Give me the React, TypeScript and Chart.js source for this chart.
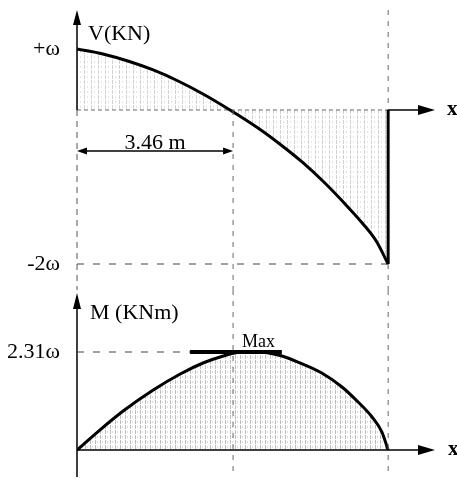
import { useEffect, useRef } from "react";
import { Chart, registerables } from "chart.js";

Chart.register(...registerables);

// ---- data (drawing units) ----
const shearX = [0, 0.5, 0.98, 1.47, 1.95, 2.43, 2.95, 3.49, 3.91, 4.34, 4.78, 5.17, 5.5, 5.77, 6.0];
const shearV = [1.0, 0.918, 0.803, 0.656, 0.475, 0.262, 0, -0.295, -0.557, -0.852, -1.197, -1.541, -1.852, -2.148, -2.525];
const momentX = [0, 0.44, 0.89, 1.47, 1.99, 2.43, 2.82, 3.09, 3.3, 3.49, 3.88, 4.26, 4.72, 5.11, 5.42, 5.69, 5.88, 6.0];
const momentM = [0, 0.471, 0.919, 1.414, 1.792, 2.051, 2.216, 2.298, 2.31, 2.31, 2.239, 2.074, 1.815, 1.485, 1.132, 0.778, 0.424, 0];
const shearTicks = [1, -2.525];
const shearTickLabels = ["+ω", "-2ω"];
const momentTicks = [2.31];
const momentTickLabels = ["2.31ω"];
const beamEnd = 6;
const zeroShearX = 3.01;
const maxSpan = [2.18, 3.95];
const maxMoment = 2.31;
const xRange = [0, 7];
const shearRange = [-2.951, 1.639];
const momentRange = [-0.6365, 3.772];
const dimText = "3.46 m";
const shearTitle = "V(KN)";
const momentTitle = "M (KNm)";
const maxText = "Max";
const axisText = "x";

const SERIF = "'Liberation Serif', 'DejaVu Serif', serif";

function makeHatch(step: number, alpha: number) {
  const c = document.createElement("canvas");
  c.width = step;
  c.height = 5;
  const g = c.getContext("2d")!;
  g.fillStyle = `rgba(0,0,0,${alpha})`;
  g.fillRect(0, 0, 1, 4);
  g.fillStyle = `rgba(0,0,0,${alpha * 0.55})`;
  g.fillRect(Math.floor(step / 2), 1, 1, 2);
  return g.createPattern(c, "repeat");
}

function seg(ctx: CanvasRenderingContext2D, x1: number, y1: number, x2: number, y2: number) {
  ctx.beginPath();
  ctx.moveTo(x1, y1);
  ctx.lineTo(x2, y2);
  ctx.stroke();
}
function tri(ctx: CanvasRenderingContext2D, pts: number[]) {
  ctx.beginPath();
  ctx.moveTo(pts[0], pts[1]);
  ctx.lineTo(pts[2], pts[3]);
  ctx.lineTo(pts[4], pts[5]);
  ctx.closePath();
  ctx.fill();
}
const arrowRight = (ctx: any, tx: number, y: number, len: number, h: number) =>
  tri(ctx, [tx, y, tx - len, y - h, tx - len, y + h]);
const arrowLeft = (ctx: any, tx: number, y: number, len: number, h: number) =>
  tri(ctx, [tx, y, tx + len, y - h, tx + len, y + h]);
const arrowUp = (ctx: any, x: number, ty: number, len: number, h: number) =>
  tri(ctx, [x, ty, x - h, ty + len, x + h, ty + len]);

function yScaleOpts(range: number[], ticks: number[], labels: string[]) {
  return {
    type: "linear" as const,
    min: range[0],
    max: range[1],
    grid: { display: false },
    border: { display: false },
    afterBuildTicks: (s: any) => {
      s.ticks = ticks.map((v) => ({ value: v }));
    },
    afterFit: (s: any) => {
      s.width = 77;
      s.paddingTop = 0;
      s.paddingBottom = 0;
    },
    ticks: {
      padding: 9,
      color: "#000",
      font: { family: SERIF, size: 22 },
      callback: (_v: any, i: number) => labels[i],
    },
  };
}

const shearDecor = {
  id: "shearDecor",
  afterDraw(chart: any) {
    const { ctx, chartArea: a } = chart;
    const xs = chart.scales.x;
    const ys = chart.scales.y;
    const x0 = xs.getPixelForValue(0);
    const xL = xs.getPixelForValue(beamEnd);
    const xZ = xs.getPixelForValue(zeroShearX);
    const y0 = ys.getPixelForValue(0);
    const yMin = ys.getPixelForValue(shearV[shearV.length - 1]);
    ctx.save();
    ctx.fillStyle = "#000";
    ctx.strokeStyle = "#000";
    // V axis
    ctx.lineWidth = 1.5;
    seg(ctx, x0, a.top + 10, x0, y0);
    arrowUp(ctx, x0, a.top, 15, 4);
    ctx.lineWidth = 1;
    ctx.strokeStyle = "#555";
    ctx.setLineDash([6, 5]);
    seg(ctx, x0, y0, x0, a.bottom);
    // base line (dotted under diagram)
    ctx.strokeStyle = "rgba(0,0,0,0.6)";
    ctx.setLineDash([4, 3]);
    seg(ctx, x0, y0, xL, y0);
    // verticals
    ctx.strokeStyle = "#666";
    ctx.setLineDash([5, 6]);
    seg(ctx, xZ, y0, xZ, a.bottom);
    seg(ctx, xL, a.top, xL, y0);
    seg(ctx, xL, yMin, xL, a.bottom);
    // x axis beyond beam
    ctx.setLineDash([]);
    ctx.strokeStyle = "#000";
    ctx.lineWidth = 1.5;
    seg(ctx, xL, y0, a.right - 20, y0);
    arrowRight(ctx, a.right - 5, y0, 17, 5);
    ctx.font = `bold 21px ${SERIF}`;
    ctx.textAlign = "left";
    ctx.textBaseline = "alphabetic";
    ctx.fillText(axisText, a.right + 7, y0 + 5);
    // title
    ctx.font = `22px ${SERIF}`;
    ctx.textBaseline = "middle";
    ctx.fillText(shearTitle, x0 + 11, y0 - 76);
    // dimension
    const yd = y0 + 41;
    ctx.lineWidth = 1.5;
    seg(ctx, x0 + 8, yd, xZ - 8, yd);
    arrowLeft(ctx, x0, yd, 10, 3.5);
    arrowRight(ctx, xZ, yd, 10, 3.5);
    ctx.textAlign = "center";
    ctx.textBaseline = "alphabetic";
    ctx.fillText(dimText, (x0 + xZ) / 2, yd - 2);
    ctx.restore();
  },
};

const momentDecor = {
  id: "momentDecor",
  afterDraw(chart: any) {
    const { ctx, chartArea: a } = chart;
    const xs = chart.scales.x;
    const ys = chart.scales.y;
    const x0 = xs.getPixelForValue(0);
    const xL = xs.getPixelForValue(beamEnd);
    const xZ = xs.getPixelForValue(zeroShearX);
    const y0 = ys.getPixelForValue(0);
    const yMax = ys.getPixelForValue(maxMoment);
    ctx.save();
    ctx.fillStyle = "#000";
    ctx.strokeStyle = "#000";
    // M axis
    ctx.lineWidth = 1.5;
    seg(ctx, x0, a.top + 12, x0, a.bottom);
    arrowUp(ctx, x0, a.top + 3, 16, 4);
    // verticals
    ctx.lineWidth = 1;
    ctx.strokeStyle = "#666";
    ctx.setLineDash([5, 6]);
    seg(ctx, xZ, a.top, xZ, a.bottom);
    seg(ctx, xL, a.top, xL, a.bottom);
    // 2.31 dashed guide
    ctx.strokeStyle = "#444";
    ctx.setLineDash([7, 9]);
    seg(ctx, x0, yMax, xs.getPixelForValue(maxSpan[0]), yMax);
    // x axis
    ctx.setLineDash([]);
    ctx.strokeStyle = "#000";
    ctx.lineWidth = 1.5;
    seg(ctx, x0, y0, a.right - 20, y0);
    arrowRight(ctx, a.right - 5, y0, 17, 5);
    ctx.font = `bold 21px ${SERIF}`;
    ctx.textAlign = "left";
    ctx.textBaseline = "alphabetic";
    ctx.fillText(axisText, a.right + 8, y0 + 5);
    // title
    ctx.font = `22px ${SERIF}`;
    ctx.textBaseline = "middle";
    ctx.fillText(momentTitle, x0 + 13, a.top + 23);
    // Max
    ctx.font = `18px ${SERIF}`;
    ctx.textAlign = "center";
    ctx.textBaseline = "alphabetic";
    ctx.fillText(maxText, (xZ + xs.getPixelForValue(maxSpan[1])) / 2 + 1, yMax - 5);
    ctx.restore();
  },
};

export default function App() {
  const topRef = useRef<HTMLCanvasElement>(null);
  const botRef = useRef<HTMLCanvasElement>(null);

  useEffect(() => {
    const hatchV = makeHatch(7, 0.18);
    const hatchM = makeHatch(5, 0.26);
    const common = {
      animation: false as const,
      responsive: false,
      events: [] as any[],
      plugins: { legend: { display: false }, tooltip: { enabled: false } },
    };
    const top = new Chart(topRef.current!, {
      type: "line",
      data: {
        datasets: [
          {
            data: shearX.map((x, i) => ({ x, y: shearV[i] })),
            borderColor: "#000",
            borderWidth: 3,
            pointRadius: 0,
            cubicInterpolationMode: "monotone",
            fill: "origin",
            backgroundColor: hatchV as any,
          },
          {
            data: [
              { x: beamEnd, y: shearV[shearV.length - 1] },
              { x: beamEnd, y: 0 },
            ],
            borderColor: "#000",
            borderWidth: 3,
            pointRadius: 0,
          },
          {
            data: [
              { x: 0, y: shearTicks[1] },
              { x: beamEnd, y: shearTicks[1] },
            ],
            borderColor: "#444",
            borderWidth: 1,
            borderDash: [7, 9],
            pointRadius: 0,
          },
        ],
      },
      options: {
        ...common,
        layout: { padding: { left: 0, right: 17, top: 10, bottom: 0 } },
        scales: {
          x: { type: "linear", min: xRange[0], max: xRange[1], display: false },
          y: yScaleOpts(shearRange, shearTicks, shearTickLabels) as any,
        },
      },
      plugins: [shearDecor],
    });
    const bot = new Chart(botRef.current!, {
      type: "line",
      data: {
        datasets: [
          {
            data: momentX.map((x, i) => ({ x, y: momentM[i] })),
            borderColor: "#000",
            borderWidth: 3,
            pointRadius: 0,
            cubicInterpolationMode: "monotone",
            fill: "origin",
            backgroundColor: hatchM as any,
          },
          {
            data: maxSpan.map((x) => ({ x, y: maxMoment })),
            borderColor: "#000",
            borderWidth: 4,
            pointRadius: 0,
          },
        ],
      },
      options: {
        ...common,
        layout: { padding: { left: 0, right: 17, top: 0, bottom: 2 } },
        scales: {
          x: { type: "linear", min: xRange[0], max: xRange[1], display: false },
          y: yScaleOpts(momentRange, momentTicks, momentTickLabels) as any,
        },
      },
      plugins: [momentDecor],
    });
    return () => {
      top.destroy();
      bot.destroy();
    };
  }, []);

  return (
    <div style={{ position: "absolute", left: 0, top: 0, width: 457, height: 479, background: "#fff" }}>
      <canvas ref={topRef} width={457} height={290} style={{ display: "block", position: "absolute", left: 0, top: 0 }} />
      <canvas ref={botRef} width={457} height={189} style={{ display: "block", position: "absolute", left: 0, top: 290 }} />
    </div>
  );
}
